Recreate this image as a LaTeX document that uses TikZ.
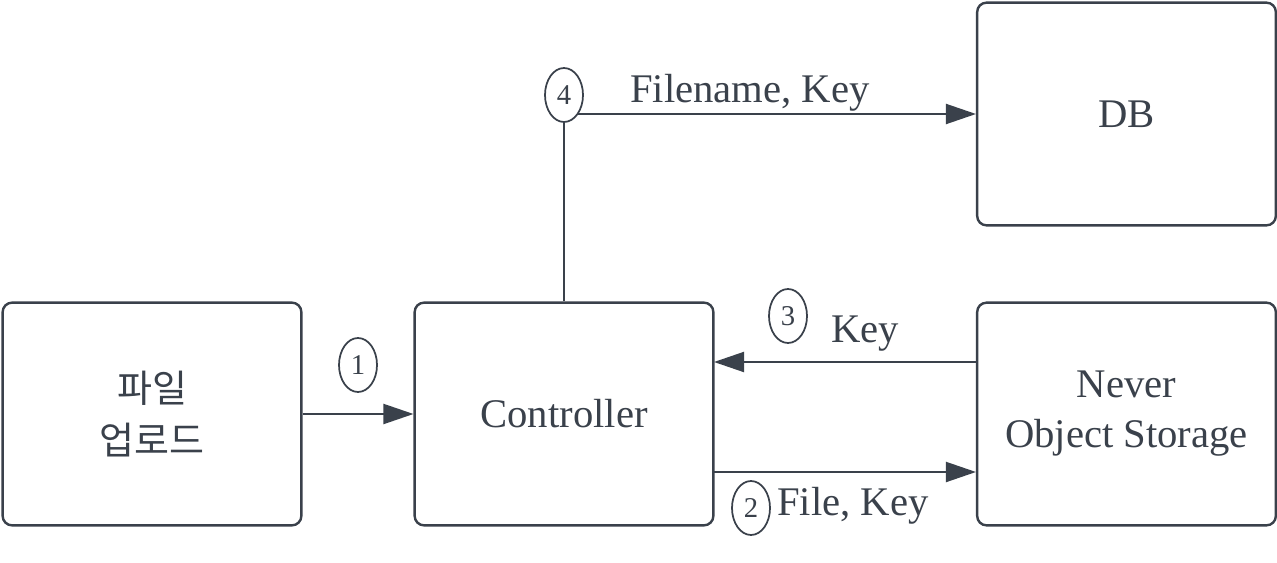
\documentclass[tikz,border=0pt]{standalone}
\usepackage{fontspec}
\setmainfont{Liberation Serif}
\newfontfamily\cjk{Noto Sans CJK KR}
\definecolor{lucidgray}{RGB}{58,65,75}
\usetikzlibrary{arrows.meta,shapes.geometric,positioning}
\tikzstyle{box}=[draw=lucidgray,line width=1.8pt,rounded corners=7pt,
  minimum width=224pt,minimum height=167pt,align=center,text=lucidgray,
  font=\fontsize{30.5}{37.5}\selectfont]
\tikzstyle{conn}=[-{Triangle[length=22.5pt,width=15pt]},lucidgray,line width=1.5pt]
\tikzstyle{num}=[draw=lucidgray,ellipse,fill=white,line width=1.3pt,inner sep=0pt,
  minimum width=28.5pt,minimum height=40.5pt,text=lucidgray,
  font=\fontsize{21.5}{24}\selectfont]
\tikzstyle{lbl}=[anchor=base west,inner sep=0pt,text=lucidgray,
  font=\fontsize{30.5}{37.5}\selectfont]

\begin{document}
\begin{tikzpicture}[x=0.75pt,y=-0.75pt]
  \useasboundingbox (0,0) rectangle (1277,563);

  \node[box,font=\cjk\fontsize{28.5}{39}\selectfont] (upload) at (152,414) {파일\\업로드};
  \node[box] (ctrl) at (564,414) {Controller};
  \node[box] (store) at (1126.5,414) {Never\\Object Storage};
  \node[box] (db) at (1126.5,114) {DB};

  \coordinate (out2) at (714,472);
  \coordinate (in3) at (714,362);

  \draw[conn] (upload) -- (ctrl);
  \draw[conn] (out2) -- (out2 -| store.west);
  \draw[conn] (in3 -| store.west) -- (in3);
  \draw[conn] (ctrl.north) |- (db.west);

  \node[num] (n1) at (358,365) {1};
  \node[num] (n2) at (751,508) {2};
  \node[num] (n3) at (788,316) {3};
  \node[num] (n4) at (564,95) {4};

  \node[lbl] (l2) at (777,515) {File, Key};
  \node[lbl] (l3) at (831,342) {Key};
  \node[lbl] (l4) at (630,103) {Filename, Key};

\end{tikzpicture}
\end{document}
